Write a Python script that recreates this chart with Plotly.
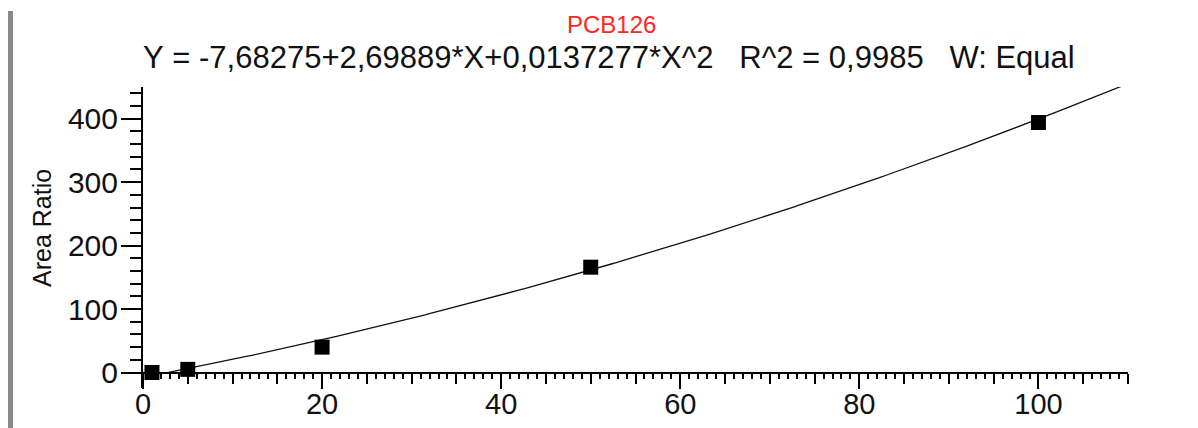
import plotly.graph_objects as go

# ---- data ----
conc = [1, 5, 20, 50, 100]
area_ratio = [0, 5, 40, 166, 394]
coef_a = -7.68275
coef_b = 2.69889
coef_c = 0.0137277
curve_start = 2.85
curve_end = 110
compound = "PCB126"
equation = "Y = -7,68275+2,69889*X+0,0137277*X^2   R^2 = 0,9985   W: Equal"
y_title = "Area Ratio"
x_ticks = [0, 20, 40, 60, 80, 100]
y_ticks = [0, 100, 200, 300, 400]

# fitted curve evaluated from the printed coefficients
n = 300
cx = [curve_start + (curve_end - curve_start) * i / (n - 1) for i in range(n)]
cy = [coef_a + coef_b * v + coef_c * v * v for v in cx]

FONT = "Liberation Sans, Arial, sans-serif"
OFF = 8  # page body margin in the browser
W, H = 1198 - 2 * OFF, 428 - OFF
L, T = 143 - OFF, 87 - OFF
pw, ph = 985, 301
R, B = W - L - pw, H - T - ph
YMIN, YMAX = -24.4, 450
XMIN, XMAX = 0, 110

def px_x(p):
    return (p - OFF - L) / pw

def px_y(p):
    return (H - B - (p - OFF)) / ph

fig = go.Figure()
fig.add_trace(go.Scatter(x=cx, y=cy, mode="lines",
                         line=dict(color="#111111", width=1.3),
                         hoverinfo="skip", showlegend=False))
fig.add_trace(go.Scatter(x=conc, y=area_ratio, mode="markers",
                         marker=dict(symbol="square", size=15, color="black",
                                     line=dict(width=0)),
                         cliponaxis=False, showlegend=False))
# invisible trace to carry the fine tick axis
fig.add_trace(go.Scatter(x=[0], y=[0], xaxis="x2", yaxis="y", mode="markers",
                         marker=dict(opacity=0), hoverinfo="skip", showlegend=False))

xpos = (0 - YMIN) / (YMAX - YMIN)

fig.update_layout(
    width=W, height=H, autosize=False,
    margin=dict(l=L, r=R, t=T, b=B, autoexpand=False),
    paper_bgcolor="white", plot_bgcolor="white",
    font=dict(family=FONT, color="#111111"),
    xaxis=dict(range=[XMIN, XMAX], anchor="free", position=xpos, automargin=False,
               showline=True, linecolor="black", linewidth=2,
               showgrid=False, zeroline=False,
               tickmode="array", tickvals=x_ticks, ticktext=[str(v) for v in x_ticks],
               ticks="outside", ticklen=15, tickwidth=2, tickcolor="black",
               ticklabelstandoff=-9,
               tickfont=dict(size=29, family=FONT, color="#111111"),
               minor=dict(tickmode="array", tickvals=list(range(5, 111, 5)),
                          ticks="outside", ticklen=10, tickwidth=2, tickcolor="black")),
    xaxis2=dict(range=[XMIN, XMAX], overlaying="x", anchor="free", position=xpos,
                automargin=False,
                showline=False, showgrid=False, zeroline=False, showticklabels=False,
                tickmode="linear", tick0=0, dtick=1,
                ticks="outside", ticklen=5, tickwidth=1.5, tickcolor="black"),
    yaxis=dict(range=[YMIN, YMAX], domain=[0, 1], automargin=False,
               showline=True, linecolor="black", linewidth=2,
               showgrid=False, zeroline=False,
               tickmode="array", tickvals=y_ticks, ticktext=[str(v) for v in y_ticks],
               ticks="outside", ticklen=20, tickwidth=2, tickcolor="black",
               ticklabelstandoff=-3,
               tickfont=dict(size=30, family=FONT, color="#111111"),
               minor=dict(tickmode="array",
                          tickvals=[v for v in range(20, 450, 20) if v % 100 != 0],
                          ticks="outside", ticklen=11, tickwidth=2, tickcolor="black")),
    showlegend=False,
)

fig.add_annotation(text=compound, xref="paper", yref="paper",
                   x=px_x(611), y=px_y(24), xanchor="center", yanchor="middle",
                   showarrow=False, font=dict(size=24, color="#ff2626", family=FONT))
fig.add_annotation(text=equation.replace(" ", "&nbsp;"), xref="paper", yref="paper",
                   x=px_x(609), y=px_y(57), xanchor="center", yanchor="middle",
                   showarrow=False, font=dict(size=31, color="#111111", family=FONT))
fig.add_annotation(text=y_title, xref="paper", yref="paper", textangle=-90,
                   x=px_x(42), y=px_y(228), xanchor="center", yanchor="middle",
                   showarrow=False, font=dict(size=25, color="#111111", family=FONT))

# left gray frame bar
fig.add_shape(type="line", xref="paper", yref="paper",
              x0=px_x(10.5), x1=px_x(10.5), y0=px_y(11), y1=px_y(428),
              line=dict(color="#8a8a8a", width=5))

fig.write_html("out.html")
